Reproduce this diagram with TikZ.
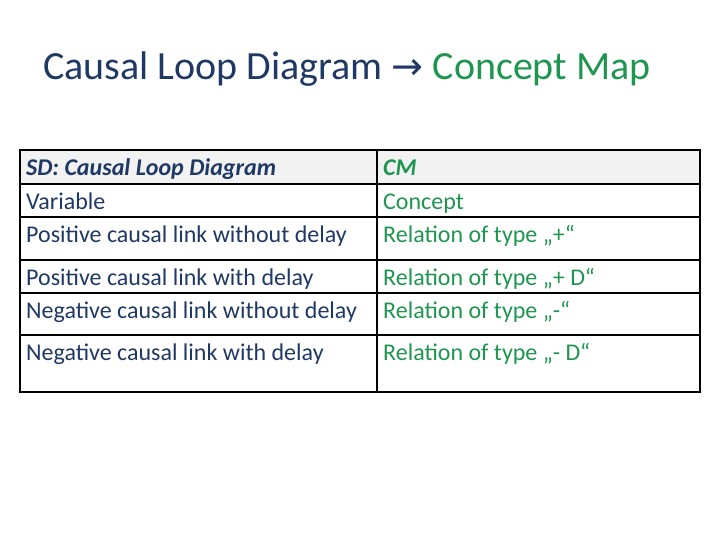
\documentclass[tikz,border=0pt]{standalone}
\usepackage{fontspec}
\setmainfont{Carlito}
\newfontfamily\symf{DejaVu Sans}
\definecolor{navy}{HTML}{1F3864}
\definecolor{grn}{HTML}{1E9650}
\definecolor{hdr}{HTML}{F2F2F2}
\begin{document}
\begin{tikzpicture}[x=1pt,y=-1pt,
  lt/.style={anchor=base west,text=navy,font=\fontsize{24}{28}\selectfont,inner sep=0pt},
  rt/.style={anchor=base west,text=grn,font=\fontsize{24}{28}\selectfont,inner sep=0pt},
  grid/.style={line width=1.3pt,black}]
\useasboundingbox (0,0) rectangle (720,540);
\fill[hdr] (20,150) rectangle (700,184);
\node[anchor=base west,inner sep=0pt,font=\fontsize{40}{46}\selectfont] (title) at (43,80) {\textcolor{navy}{Causal Loop Diagram {\symf\fontsize{38}{44}\selectfont →}} \textcolor{grn}{Concept Map}};
\draw[grid] (20,150) rectangle (700,392);
\foreach \y in {184,217,260,293,335} \draw[grid] (20,\y) -- (700,\y);
\draw[grid] (377,150) -- (377,392);
\node[lt,font=\fontsize{24}{28}\selectfont\bfseries\itshape] (l0) at (26,176) {SD: Causal Loop Diagram};
\node[lt] (l1) at (26,210) {Variable};
\node[lt] (l2) at (26,243) {Positive causal link without delay};
\node[lt] (l3) at (26,285) {Positive causal link with delay};
\node[lt] (l4) at (26,318) {Negative causal link without delay};
\node[lt] (l5) at (26,360) {Negative causal link with delay};
\node[rt,font=\fontsize{24}{28}\selectfont\bfseries\itshape] (r0) at (383,176) {CM};
\node[rt] (r1) at (383,210) {Concept};
\node[rt] (r2) at (383,243) {Relation of type „+“};
\node[rt] (r3) at (383,285) {Relation of type „+ D“};
\node[rt] (r4) at (383,318) {Relation of type „-“};
\node[rt] (r5) at (383,360) {Relation of type „- D“};
\end{tikzpicture}
\end{document}
